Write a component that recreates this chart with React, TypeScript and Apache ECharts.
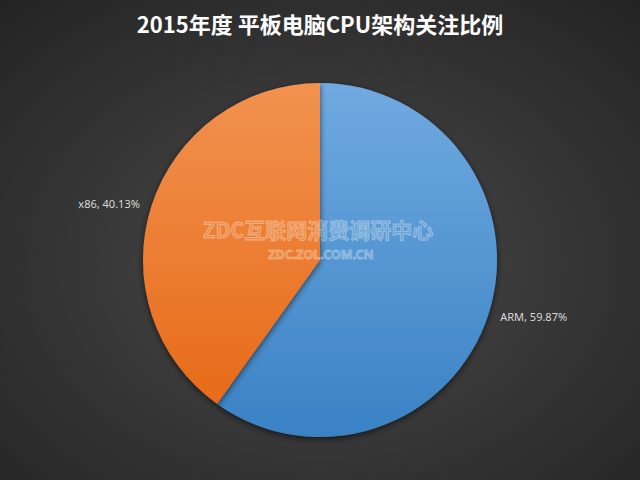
import React, { useEffect, useRef } from "react";
import * as echarts from "echarts";

const titleText = "2015年度 平板电脑CPU架构关注比例";
const categories = ["ARM", "x86"];
const values = [59.87, 40.13];
const watermarkMain = "ZDC互联网消费调研中心";
const watermarkSub = "ZDC.ZOL.COM.CN";

const grad = (top: string, bottom: string) =>
  new echarts.graphic.LinearGradient(0, 0, 0, 1, [
    { offset: 0, color: top },
    { offset: 1, color: bottom },
  ]);

export default function App() {
  const ref = useRef<HTMLDivElement>(null);
  useEffect(() => {
    document.body.style.margin = "0";
    const chart = echarts.init(ref.current!, null, { renderer: "svg" });
    const colors = [grad("#70aae0", "#3a82c4"), grad("#f1924f", "#e76b19")];
    chart.setOption({
      animation: false,
      backgroundColor: new echarts.graphic.RadialGradient(0.5, 0.55, 0.75, [
        { offset: 0, color: "#4a4a4a" },
        { offset: 1, color: "#232323" },
      ]),
      title: {
        text: titleText,
        left: "center",
        top: 7,
        textStyle: {
          color: "#ffffff",
          fontSize: 22,
          fontWeight: "bold",
          fontFamily: "'Noto Sans CJK SC', sans-serif",
        },
      },
      series: [
        {
          type: "pie",
          center: [320, 260],
          radius: 177,
          startAngle: 90,
          clockwise: true,
          avoidLabelOverlap: false,
          data: categories.map((c, i) => ({
            name: c,
            value: values[i],
            itemStyle: { color: colors[i] },
          })),
          itemStyle: {
            shadowColor: "rgba(0,0,0,0.6)",
            shadowBlur: 6,
            shadowOffsetY: 2,
          },
          label: {
            show: true,
            position: "outside",
            distanceToLabelLine: 4,
            formatter: (p: any) => `${p.name}, ${p.value.toFixed(2)}%`,
            color: "#d8d8d8",
            fontSize: 11,
            fontFamily: "'Noto Sans', sans-serif",
          },
          labelLine: { show: false, length: 8, length2: 0 },
        },
      ],
      graphic: [
        {
          type: "text",
          x: 318,
          y: 229,
          style: {
            text: watermarkMain,
            align: "center",
            verticalAlign: "middle",
            font: "bold 21px 'Noto Sans CJK SC', sans-serif",
            fill: "rgba(255,255,255,0.14)",
            stroke: "rgba(255,255,255,0.32)",
            lineWidth: 1,
          },
          z: 100,
        },
        {
          type: "text",
          x: 321,
          y: 254,
          style: {
            text: watermarkSub,
            align: "center",
            verticalAlign: "middle",
            font: "bold 12.5px 'Noto Sans', sans-serif",
            fill: "rgba(255,255,255,0.14)",
            stroke: "rgba(255,255,255,0.32)",
            lineWidth: 1,
          },
          z: 100,
        },
      ],
    });
    return () => chart.dispose();
  }, []);
  return <div ref={ref} style={{ width: 640, height: 480 }} />;
}
